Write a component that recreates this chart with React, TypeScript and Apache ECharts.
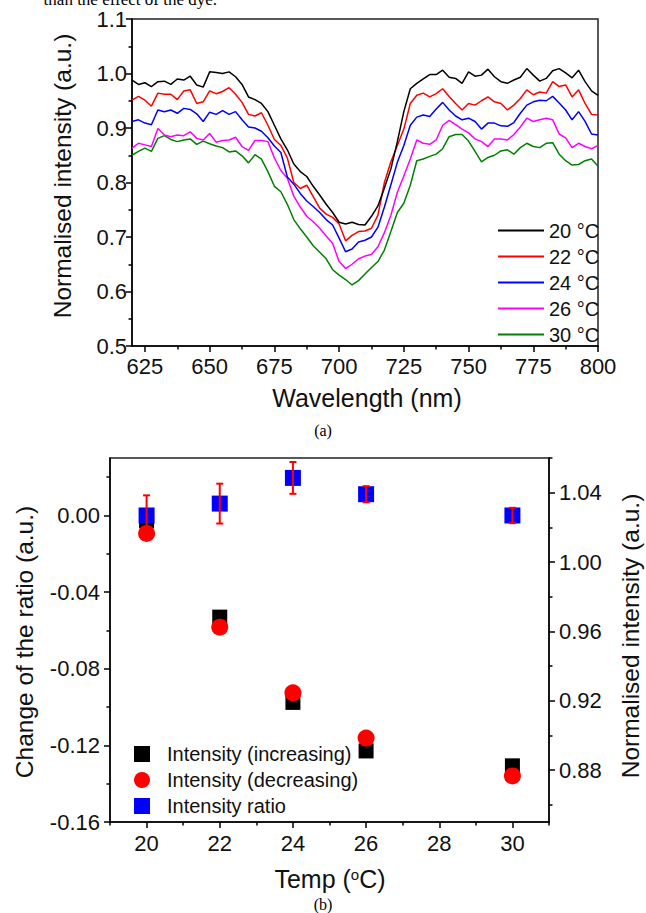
import React, { useEffect, useRef } from 'react';
import * as echarts from 'echarts';

// ---------- Panel (a): spectra ----------
const wavelength = [
  620, 622.5, 625, 627.5, 630, 632.5, 635, 637.5, 640, 642.5, 645, 647.5, 650, 652.5, 655, 657.5,
  660, 662.5, 665, 667.5, 670, 672.5, 675, 677.5, 680, 682.5, 685, 687.5, 690, 692.5, 695, 697.5,
  700, 702.5, 705, 707.5, 710, 712.5, 715, 717.5, 720, 722.5, 725, 727.5, 730, 732.5, 735, 737.5,
  740, 742.5, 745, 747.5, 750, 752.5, 755, 757.5, 760, 762.5, 765, 767.5, 770, 772.5, 775, 777.5,
  780, 782.5, 785, 787.5, 790, 792.5, 795, 797.5, 800,
];
const i20 = [
  0.988, 0.980, 0.983, 0.976, 0.985, 0.986, 0.980, 0.990, 0.988, 0.995, 0.979, 0.975, 1.003, 1.002, 1.000, 1.003,
  0.994, 0.980, 0.957, 0.952, 0.945, 0.930, 0.905, 0.880, 0.860, 0.834, 0.820, 0.811, 0.793, 0.777, 0.760, 0.745,
  0.727, 0.724, 0.727, 0.723, 0.722, 0.738, 0.757, 0.790, 0.825, 0.875, 0.930, 0.972, 0.982, 0.990, 0.998, 0.998,
  1.006, 0.993, 0.991, 0.982, 1.003, 0.995, 0.997, 1.008, 0.994, 0.985, 0.982, 0.988, 0.993, 1.009, 0.997, 0.986,
  0.991, 1.005, 1.009, 1.001, 0.992, 1.006, 0.985, 0.968, 0.960,
];
const i22 = [
  0.951, 0.958, 0.951, 0.940, 0.964, 0.962, 0.962, 0.952, 0.968, 0.970, 0.945, 0.948, 0.968, 0.963, 0.967, 0.974,
  0.962, 0.947, 0.925, 0.922, 0.928, 0.905, 0.879, 0.868, 0.845, 0.800, 0.789, 0.795, 0.774, 0.753, 0.742, 0.736,
  0.724, 0.693, 0.703, 0.710, 0.711, 0.716, 0.740, 0.800, 0.838, 0.868, 0.898, 0.945, 0.960, 0.964, 0.957, 0.963,
  0.972, 0.958, 0.945, 0.933, 0.945, 0.942, 0.950, 0.957, 0.948, 0.945, 0.933, 0.942, 0.954, 0.970, 0.961, 0.966,
  0.964, 0.985, 0.976, 0.979, 0.957, 0.970, 0.945, 0.925, 0.924,
];
const i24 = [
  0.912, 0.915, 0.909, 0.906, 0.933, 0.930, 0.933, 0.927, 0.936, 0.934, 0.926, 0.912, 0.929, 0.925, 0.932, 0.925,
  0.930, 0.915, 0.902, 0.900, 0.894, 0.882, 0.867, 0.855, 0.810, 0.797, 0.780, 0.766, 0.756, 0.745, 0.732, 0.722,
  0.698, 0.673, 0.678, 0.691, 0.694, 0.700, 0.718, 0.755, 0.796, 0.837, 0.868, 0.905, 0.920, 0.924, 0.921, 0.935,
  0.947, 0.933, 0.922, 0.915, 0.918, 0.912, 0.898, 0.909, 0.909, 0.904, 0.903, 0.910, 0.927, 0.942, 0.948, 0.951,
  0.950, 0.958, 0.946, 0.933, 0.915, 0.930, 0.912, 0.889, 0.887,
];
const i26 = [
  0.863, 0.872, 0.869, 0.866, 0.899, 0.887, 0.884, 0.887, 0.886, 0.893, 0.881, 0.878, 0.890, 0.874, 0.877, 0.878,
  0.883, 0.866, 0.859, 0.877, 0.877, 0.875, 0.845, 0.822, 0.808, 0.775, 0.755, 0.738, 0.728, 0.716, 0.702, 0.688,
  0.655, 0.642, 0.650, 0.660, 0.665, 0.668, 0.682, 0.708, 0.740, 0.782, 0.812, 0.843, 0.878, 0.872, 0.870, 0.878,
  0.905, 0.914, 0.906, 0.898, 0.891, 0.880, 0.875, 0.866, 0.880, 0.880, 0.878, 0.888, 0.902, 0.918, 0.912, 0.915,
  0.918, 0.915, 0.889, 0.882, 0.864, 0.872, 0.866, 0.862, 0.868,
];
const i30 = [
  0.850, 0.857, 0.863, 0.857, 0.881, 0.886, 0.879, 0.875, 0.878, 0.880, 0.870, 0.876, 0.871, 0.867, 0.864, 0.856,
  0.858, 0.849, 0.836, 0.851, 0.843, 0.820, 0.793, 0.783, 0.760, 0.732, 0.715, 0.700, 0.684, 0.672, 0.660, 0.640,
  0.630, 0.622, 0.612, 0.620, 0.632, 0.644, 0.655, 0.676, 0.710, 0.745, 0.762, 0.795, 0.840, 0.843, 0.848, 0.852,
  0.862, 0.884, 0.888, 0.888, 0.876, 0.857, 0.838, 0.846, 0.850, 0.858, 0.860, 0.852, 0.864, 0.872, 0.866, 0.864,
  0.872, 0.873, 0.852, 0.840, 0.832, 0.833, 0.840, 0.843, 0.830,
];
const specNames = ['20 °C', '22 °C', '24 °C', '26 °C', '30 °C'];
const specColors = ['#000000', '#ff0000', '#0000ff', '#ff00ff', '#008000'];
const specValues = [i20, i22, i24, i26, i30];

const xMajorA = [625, 650, 675, 700, 725, 750, 775, 800];
const xMinorA = [637.5, 662.5, 687.5, 712.5, 737.5, 762.5, 787.5];
const yMajorA = [0.5, 0.6, 0.7, 0.8, 0.9, 1.0, 1.1];
const yMinorA = [0.55, 0.65, 0.75, 0.85, 0.95, 1.05];

// ---------- Panel (b): temperature ----------
const temps = [20, 22, 24, 26, 30];
const intensityIncreasing = [1.0238, 0.9682, 0.919, 0.891, 0.8824];
const intensityDecreasing = [1.0165, 0.9624, 0.9245, 0.8984, 0.8766];
const intensityRatio = [0.0, 0.0062, 0.0196, 0.0111, 0.0];
const ratioError = [0.0105, 0.0104, 0.0083, 0.0042, 0.004];

const xMajorB = [20, 22, 24, 26, 28, 30];
const xMinorB = [19, 21, 23, 25, 27, 29, 31];
const yLeftMajorB = [-0.16, -0.12, -0.08, -0.04, 0.0];
const yLeftMinorB = [-0.14, -0.1, -0.06, -0.02, 0.02];
const yRightMajorB = [0.88, 0.92, 0.96, 1.0, 1.04];
const yRightMinorB = [0.86, 0.9, 0.94, 0.98, 1.02, 1.06];

const FONT = '"Liberation Sans", Arial, sans-serif';
const SERIF = '"Liberation Serif", "Times New Roman", serif';
const LINE = { color: '#000', width: 1.5 };

function axis(kind: 'x' | 'y', opts: any) {
  const { grid, min, max, position, major, minor, digits, labelMargin } = opts;
  const main: any = {
    type: 'value', gridIndex: grid, min, max, position,
    axisLine: { show: true, onZero: false, lineStyle: LINE },
    axisTick: { show: true, inside: false, length: 6, customValues: major, lineStyle: LINE },
    axisLabel: {
      show: true, customValues: major, margin: labelMargin, fontSize: 22, color: '#111', fontFamily: FONT,
      formatter: (v: number) => v.toFixed(digits),
    },
    splitLine: { show: false },
  };
  const sub: any = {
    type: 'value', gridIndex: grid, min, max, position,
    axisLine: { show: false, onZero: false },
    axisTick: { show: true, inside: false, length: 3.5, customValues: minor, lineStyle: LINE },
    axisLabel: { show: false },
    splitLine: { show: false },
  };
  return [main, sub];
}

export default function App() {
  const ref = useRef<HTMLDivElement>(null);
  useEffect(() => {
    if (!ref.current) return;
    const chart = echarts.init(ref.current, null, { renderer: 'svg' });

    const xAxes = [
      ...axis('x', { grid: 0, min: 620, max: 800, position: 'bottom', major: xMajorA, minor: xMinorA, digits: 0, labelMargin: 9 }),
      ...axis('x', { grid: 1, min: 19, max: 31, position: 'bottom', major: xMajorB, minor: xMinorB, digits: 0, labelMargin: 10 }),
    ];
    const yAxes = [
      ...axis('y', { grid: 0, min: 0.5, max: 1.1, position: 'left', major: yMajorA, minor: yMinorA, digits: 1, labelMargin: 5 }),
      ...axis('y', { grid: 1, min: -0.16, max: 0.03, position: 'left', major: yLeftMajorB, minor: yLeftMinorB, digits: 2, labelMargin: 10 }),
      ...axis('y', { grid: 1, min: 0.85, max: 1.06, position: 'right', major: yRightMajorB, minor: yRightMinorB, digits: 2, labelMargin: 10 }),
    ];

    const lineSeries = specNames.map((name, k) => ({
      name,
      type: 'line',
      xAxisIndex: 0,
      yAxisIndex: 0,
      symbol: 'none',
      showSymbol: false,
      color: specColors[k],
      lineStyle: { width: 1.5, color: specColors[k] },
      data: wavelength.map((w, i) => [w, specValues[k][i]]),
      z: 5 - k,
    }));

    const option: any = {
      animation: false,
      backgroundColor: '#ffffff',
      grid: [
        { left: 132, top: 19, width: 466, height: 327, show: true, borderColor: '#222', borderWidth: 1.5, backgroundColor: 'transparent' },
        { left: 110, top: 458, width: 439, height: 364, show: true, borderColor: '#222', borderWidth: 1.5, backgroundColor: 'transparent' },
      ],
      xAxis: xAxes,
      yAxis: yAxes,
      legend: [
        {
          data: specNames.map((n, k) => ({ name: n, icon: 'rect', itemStyle: { color: specColors[k] } })),
          orient: 'vertical',
          left: 493,
          top: 214,
          itemWidth: 46,
          itemHeight: 2,
          itemGap: 3,
          selectedMode: false,
          textStyle: { fontSize: 20, fontFamily: FONT, color: '#111', lineHeight: 23 },
        },
        {
          data: ['Intensity (increasing)', 'Intensity (decreasing)', 'Intensity ratio'],
          orient: 'vertical',
          left: 129,
          top: 738,
          itemWidth: 16,
          itemHeight: 16,
          itemGap: 4,
          selectedMode: false,
          textStyle: { fontSize: 20, fontFamily: FONT, color: '#111', padding: [0, 0, 0, 12], lineHeight: 22 },
        },
      ],
      series: [
        ...lineSeries,
        {
          name: 'Intensity (increasing)',
          type: 'scatter',
          xAxisIndex: 2,
          yAxisIndex: 4,
          symbol: 'rect',
          symbolSize: 15,
          color: '#000000',
          itemStyle: { color: '#000000', opacity: 1 },
          data: temps.map((t, i) => [t, intensityIncreasing[i]]),
          z: 3,
        },
        {
          name: 'Intensity (decreasing)',
          type: 'scatter',
          xAxisIndex: 2,
          yAxisIndex: 4,
          symbol: 'circle',
          symbolSize: 17,
          color: '#ff0000',
          itemStyle: { color: '#ff0000', opacity: 1 },
          data: temps.map((t, i) => [t, intensityDecreasing[i]]),
          z: 4,
        },
        {
          name: 'Intensity ratio',
          type: 'scatter',
          xAxisIndex: 2,
          yAxisIndex: 2,
          symbol: 'rect',
          symbolSize: 16,
          color: '#0000ff',
          itemStyle: { color: '#0000ff', opacity: 1 },
          data: temps.map((t, i) => [t, intensityRatio[i]]),
          z: 5,
        },
        {
          type: 'custom',
          xAxisIndex: 2,
          yAxisIndex: 2,
          z: 6,
          encode: { x: 0, y: [1, 2] },
          data: temps.map((t, i) => [t, intensityRatio[i] - ratioError[i], intensityRatio[i] + ratioError[i]]),
          renderItem: (params: any, api: any) => {
            const x = api.value(0);
            const lo = api.coord([x, api.value(1)]);
            const hi = api.coord([x, api.value(2)]);
            const w = 3.5;
            const style = { stroke: '#ff0000', lineWidth: 2 };
            return {
              type: 'group',
              children: [
                { type: 'line', shape: { x1: hi[0], y1: hi[1], x2: lo[0], y2: lo[1] }, style },
                { type: 'line', shape: { x1: hi[0] - w, y1: hi[1], x2: hi[0] + w, y2: hi[1] }, style },
                { type: 'line', shape: { x1: lo[0] - w, y1: lo[1], x2: lo[0] + w, y2: lo[1] }, style },
              ],
            };
          },
        },
      ],
      graphic: [
        {
          type: 'text', x: 217, y: 7.5,
          style: { text: 'than the effect of the dye.', fontSize: 17, fontFamily: SERIF, fill: '#000', align: 'right', verticalAlign: 'bottom' },
        },
        {
          type: 'text', x: 62, y: 176, rotation: Math.PI / 2,
          style: { text: 'Normalised intensity (a.u.)', fontSize: 24.5, fontFamily: FONT, fill: '#111', align: 'center', verticalAlign: 'middle' },
        },
        {
          type: 'text', x: 367, y: 398,
          style: { text: 'Wavelength (nm)', fontSize: 25, fontFamily: FONT, fill: '#111', align: 'center', verticalAlign: 'middle' },
        },
        {
          type: 'text', x: 323, y: 430,
          style: { text: '(a)', fontSize: 16, fontFamily: SERIF, fill: '#000', align: 'center', verticalAlign: 'middle' },
        },
        {
          type: 'text', x: 24, y: 642, rotation: Math.PI / 2,
          style: { text: 'Change of the ratio (a.u.)', fontSize: 24.5, fontFamily: FONT, fill: '#111', align: 'center', verticalAlign: 'middle' },
        },
        {
          type: 'text', x: 630, y: 636, rotation: Math.PI / 2,
          style: { text: 'Normalised intensity (a.u.)', fontSize: 24.5, fontFamily: FONT, fill: '#111', align: 'center', verticalAlign: 'middle' },
        },
        {
          type: 'text', x: 330, y: 879,
          style: {
            text: 'Temp ({sup|o}C)', fontSize: 25, fontFamily: FONT, fill: '#111', align: 'center', verticalAlign: 'middle',
            rich: { sup: { fontSize: 15, fontFamily: FONT, fill: '#111', verticalAlign: 'top', padding: [0, 0, 10, 0] } },
          },
        },
        {
          type: 'text', x: 323, y: 904,
          style: { text: '(b)', fontSize: 16, fontFamily: SERIF, fill: '#000', align: 'center', verticalAlign: 'middle' },
        },
      ],
    };
    chart.setOption(option);
    return () => chart.dispose();
  }, []);
  return <div ref={ref} style={{ position: 'absolute', left: 0, top: 0, width: 646, height: 913, background: '#fff' }} />;
}
